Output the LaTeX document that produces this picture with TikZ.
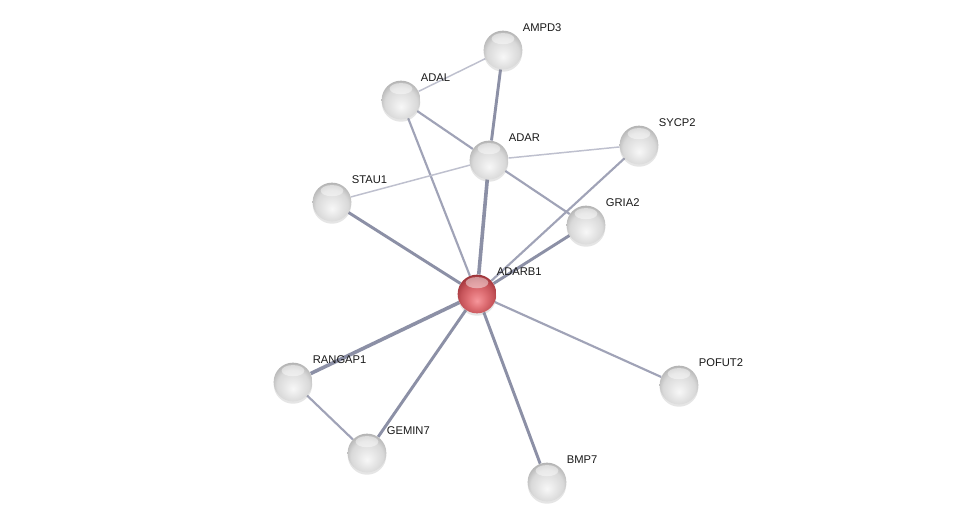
\documentclass[tikz,border=0pt]{standalone}
\usepackage{fontspec}
\setmainfont{Liberation Sans}
\usetikzlibrary{shadows, backgrounds}
\pgfdeclarelayer{edgelayer}
\pgfsetlayers{background,edgelayer,main}

\definecolor{edgedark}{RGB}{140,144,166}
\definecolor{edgemid}{RGB}{160,163,183}
\definecolor{edgelight}{RGB}{190,192,206}
\definecolor{labeltext}{RGB}{25,25,25}

\pgfdeclareradialshading{greyball}{\pgfpoint{0bp}{-9bp}}{color(0bp)=(gray!6); color(12bp)=(gray!20); color(21bp)=(gray!30); color(27bp)=(gray!52); color(31bp)=(gray!68); color(50bp)=(gray!68)}
\pgfdeclareradialshading{redball}{\pgfpoint{0bp}{-9bp}}{color(0bp)=(rgb,255:red,246;green,150;blue,155); color(12bp)=(rgb,255:red,222;green,110;blue,115); color(21bp)=(rgb,255:red,198;green,84;blue,90); color(27bp)=(rgb,255:red,170;green,60;blue,66); color(31bp)=(rgb,255:red,135;green,40;blue,45); color(50bp)=(rgb,255:red,135;green,40;blue,45)}

\tikzset{
    protein/.style={circle, minimum size=29pt, inner sep=0pt, shading=greyball,
        drop shadow={opacity=0.2, shadow xshift=0pt, shadow yshift=-1.8pt},
        path picture={\fill[white, opacity=0.45] ([yshift=-6pt]path picture bounding box.north) ellipse (8.5pt and 4.2pt);}},
    query/.style={protein, shading=redball},
    genelabel/.style={font=\fontsize{8.4}{10}\selectfont, text=labeltext, inner sep=0pt, xshift=0pt, yshift=16.5pt},
    heavy/.style={draw=edgedark, line width=2.2pt},
    normal/.style={draw=edgemid, line width=1.6pt},
    weak/.style={draw=edgelight, line width=1.1pt}
}

\begin{document}
\begin{tikzpicture}[x=0.75pt, y=-0.75pt]

    % page
    \begin{pgfonlayer}{background}
        \fill[white] (0,0) rectangle (976,527);
    \end{pgfonlayer}
    \useasboundingbox (0,0) rectangle (976,527);

    % proteins
    \node (ampd3)   [protein, label={[genelabel]0:AMPD3}]   at (503,50)  {};
    \node (adal)    [protein, label={[genelabel]0:ADAL}]    at (401,100) {};
    \node (adar)    [protein, label={[genelabel]0:ADAR}]    at (489,160) {};
    \node (sycp2)   [protein, label={[genelabel]0:SYCP2}]   at (639,145) {};
    \node (stau1)   [protein, label={[genelabel]0:STAU1}]   at (332,202) {};
    \node (gria2)   [protein, label={[genelabel]0:GRIA2}]   at (586,225) {};
    \node (adarb1)  [query,   label={[genelabel]0:ADARB1}]  at (477,294) {};
    \node (rangap1) [protein, label={[genelabel]0:RANGAP1}] at (293,382) {};
    \node (pofut2)  [protein, label={[genelabel]0:POFUT2}]  at (679,385) {};
    \node (gemin7)  [protein, label={[genelabel]0:GEMIN7}]  at (367,453) {};
    \node (bmp7)    [protein, label={[genelabel]0:BMP7}]    at (547,482) {};

    % interactions
    \begin{pgfonlayer}{edgelayer}
        \draw [weak]   (ampd3) -- (adal);
        \draw [heavy]  (ampd3) -- (adar);
        \draw [normal] (adal) -- (adar);
        \draw [normal] (adal) -- (adarb1);
        \draw [weak]   (adar) -- (sycp2);
        \draw [weak]   (adar) -- (stau1);
        \draw [normal] (adar) -- (gria2);
        \draw [heavy, line width=2.7pt] (adar) -- (adarb1);
        \draw [normal] (sycp2) -- (adarb1);
        \draw [heavy]  (gria2) -- (adarb1);
        \draw [heavy]  (stau1) -- (adarb1);
        \draw [heavy, line width=2.7pt] (adarb1) -- (rangap1);
        \draw [heavy]  (adarb1) -- (gemin7);
        \draw [heavy]  (adarb1) -- (bmp7);
        \draw [normal] (adarb1) -- (pofut2);
        \draw [normal] (rangap1) -- (gemin7);
    \end{pgfonlayer}

\end{tikzpicture}
\end{document}
